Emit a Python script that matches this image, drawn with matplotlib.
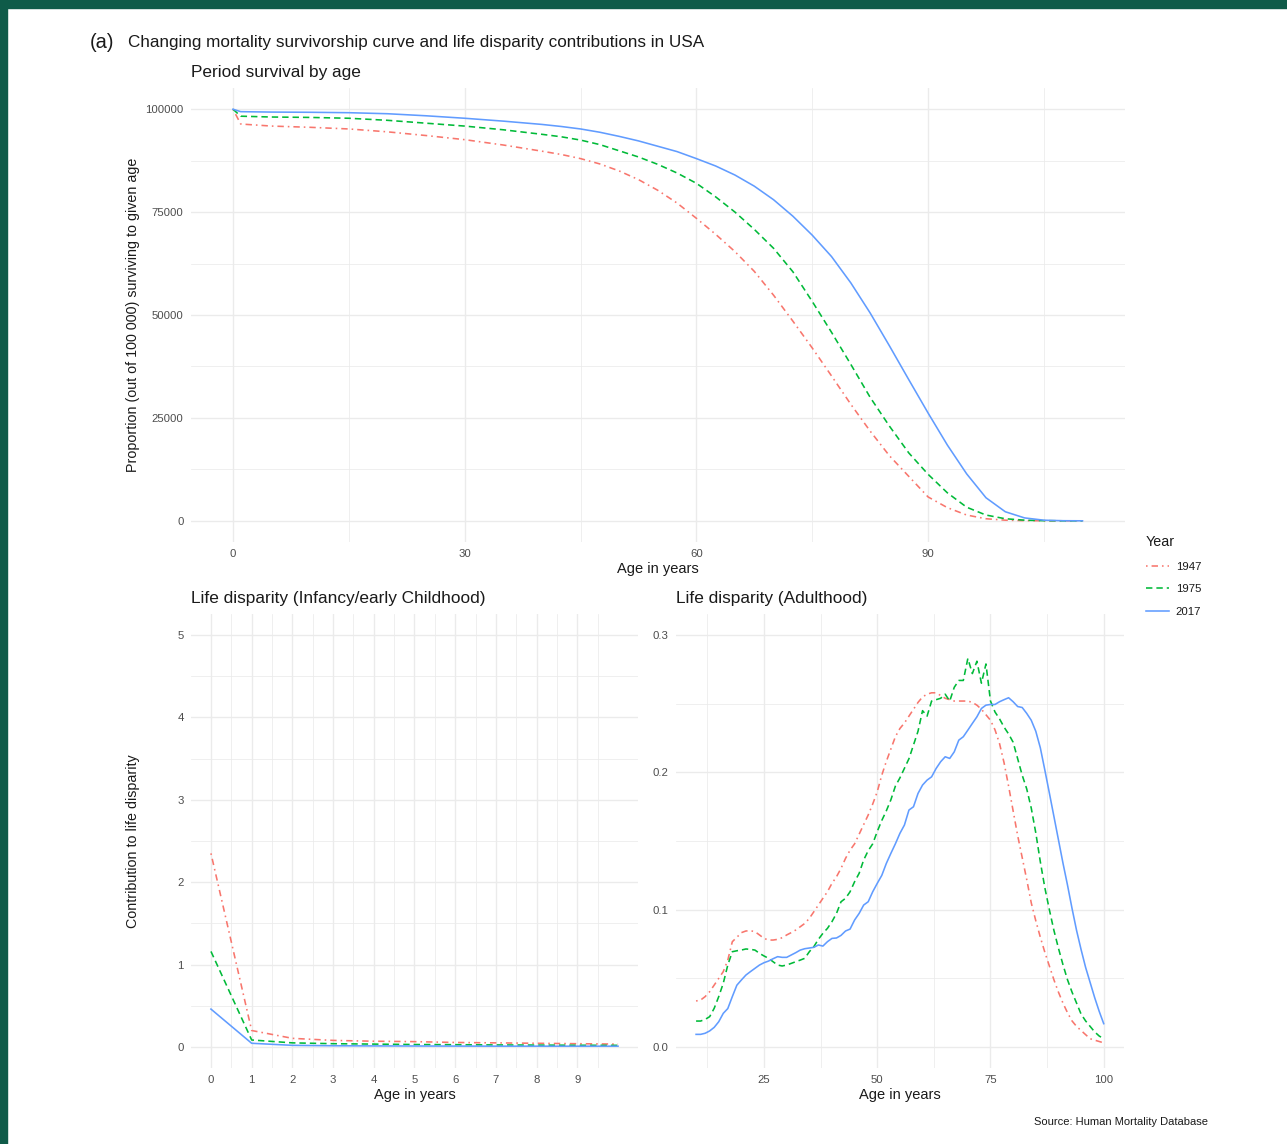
import matplotlib
matplotlib.use("Agg")
import matplotlib.pyplot as plt
from matplotlib.patches import Rectangle

plt.rcParams['font.family'] = ['Liberation Sans', 'DejaVu Sans']

# ---------------- data ----------------
years = ["1947", "1975", "2017"]
colors = ["#F8766D", "#00BA38", "#619CFF"]

surv_ages = [0, 1, 5, 10, 15, 20, 25, 30, 35, 40, 42.5, 45, 47.5, 50, 52.5, 55, 57.5, 60,
             62.5, 65, 67.5, 70, 72.5, 75, 77.5, 80, 82.5, 85, 87.5, 90, 92.5, 95, 97.5,
             100, 102.5, 105, 107.5, 110]
surv_1947 = [100000, 96400, 95900, 95600, 95200, 94500, 93600, 92600, 91300, 89800, 89000,
             88000, 86700, 85000, 82900, 80300, 77200, 73500, 69600, 65400, 60600, 54800,
             48500, 42000, 35200, 28300, 21800, 15800, 10800, 5800, 3200, 1400, 500, 150,
             40, 10, 0, 0]
surv_1975 = [100000, 98300, 98100, 98000, 97800, 97300, 96600, 95900, 95000, 93900, 93300,
             92500, 91400, 89900, 88400, 86600, 84500, 82000, 78700, 75000, 70800, 66200,
             60500, 53300, 45800, 38000, 30000, 23000, 16500, 11300, 6800, 3300, 1400, 500,
             150, 30, 0, 0]
surv_2017 = [100000, 99400, 99300, 99250, 99150, 98900, 98400, 97800, 97100, 96300, 95800,
             95200, 94400, 93400, 92300, 91000, 89700, 88000, 86200, 84000, 81300, 78000,
             74000, 69400, 64200, 57800, 50500, 42500, 34300, 26200, 18400, 11400, 5600,
             2200, 700, 150, 20, 0]

child_ages = [0, 1, 2, 3, 4, 5, 6, 7, 8, 9, 10]
child_1947 = [2.35, 0.20, 0.105, 0.08, 0.07, 0.065, 0.055, 0.05, 0.045, 0.04, 0.035]
child_1975 = [1.16, 0.085, 0.05, 0.04, 0.035, 0.03, 0.028, 0.025, 0.023, 0.021, 0.02]
child_2017 = [0.46, 0.045, 0.02, 0.015, 0.013, 0.012, 0.011, 0.01, 0.01, 0.01, 0.01]

adult_ages = list(range(10, 101))
adult_1947 = [0.0335, 0.0342, 0.0367, 0.0403, 0.0451, 0.050, 0.0549, 0.0633, 0.0767, 0.0799,
              0.0833, 0.0845, 0.0847, 0.084, 0.0816, 0.0791, 0.0779, 0.0779, 0.0784, 0.0796,
              0.0816, 0.0833, 0.0852, 0.0876, 0.090, 0.0937, 0.0985, 0.1034, 0.1083, 0.1131,
              0.1192, 0.124, 0.1301, 0.1374, 0.1434, 0.148, 0.155, 0.162, 0.169, 0.177,
              0.186, 0.198, 0.208, 0.217, 0.226, 0.232, 0.236, 0.241, 0.246, 0.251,
              0.255, 0.257, 0.258, 0.258, 0.256, 0.254, 0.253, 0.252, 0.252, 0.252,
              0.252, 0.251, 0.249, 0.246, 0.242, 0.238, 0.231, 0.221, 0.207, 0.190,
              0.172, 0.154, 0.138, 0.122, 0.105, 0.092, 0.080, 0.069, 0.059, 0.049,
              0.040, 0.032, 0.025, 0.019, 0.015, 0.012, 0.009, 0.006, 0.005, 0.004, 0.003]
adult_1975 = [0.0189, 0.0189, 0.0201, 0.0221, 0.0282, 0.0367, 0.0464, 0.0597, 0.0694, 0.0701,
              0.0706, 0.0714, 0.0711, 0.0706, 0.0682, 0.0663, 0.0646, 0.0621, 0.0597, 0.059,
              0.0597, 0.0609, 0.0621, 0.0633, 0.0646, 0.0694, 0.0731, 0.0784, 0.0828, 0.0864,
              0.0913, 0.0973, 0.1058, 0.1083, 0.1131, 0.1204, 0.1265, 0.1362, 0.143, 0.148,
              0.157, 0.165, 0.172, 0.180, 0.190, 0.196, 0.203, 0.210, 0.220, 0.230,
              0.245, 0.241, 0.252, 0.253, 0.254, 0.257, 0.252, 0.262, 0.267, 0.267,
              0.283, 0.272, 0.281, 0.265, 0.279, 0.252, 0.244, 0.239, 0.233, 0.228,
              0.222, 0.210, 0.198, 0.188, 0.174, 0.156, 0.135, 0.116, 0.100, 0.085,
              0.072, 0.060, 0.049, 0.040, 0.032, 0.024, 0.019, 0.015, 0.011, 0.008, 0.006]
adult_2017 = [0.0092, 0.0092, 0.010, 0.0117, 0.0143, 0.0184, 0.0245, 0.028, 0.0367, 0.045,
              0.0488, 0.0524, 0.0549, 0.0573, 0.0597, 0.0614, 0.0626, 0.0643, 0.0658, 0.0653,
              0.0653, 0.067, 0.0687, 0.0706, 0.0716, 0.0721, 0.0726, 0.0743, 0.0735, 0.0767,
              0.0791, 0.0794, 0.0813, 0.0845, 0.0859, 0.0925, 0.0973, 0.1034, 0.1058, 0.1131,
              0.1192, 0.125, 0.1337, 0.141, 0.148, 0.1556, 0.1617, 0.1726, 0.175, 0.1847,
              0.1908, 0.1944, 0.1968, 0.2029, 0.2078, 0.2114, 0.2102, 0.215, 0.2235, 0.226,
              0.2308, 0.2357, 0.2405, 0.2466, 0.249, 0.2495, 0.2495, 0.2515, 0.253, 0.2544,
              0.2515, 0.248, 0.2473, 0.243, 0.238, 0.230, 0.218, 0.2017, 0.185, 0.168,
              0.151, 0.134, 0.118, 0.101, 0.085, 0.071, 0.058, 0.047, 0.036, 0.026, 0.017]

linestyles = [(0, (1, 2.5, 4, 2.5)), (0, (4, 2.5)), "solid"]

# ---------------- figure ----------------
W, H = 1287, 1144
fig = plt.figure(figsize=(W / 100, H / 100), dpi=100)
fig.patch.set_facecolor("white")


def fx(px):
    return px / W


def fy(py):
    return 1 - py / H


def box(l, t, r, b):
    return [fx(l), fy(b), fx(r) - fx(l), fy(t) - fy(b)]


GRID = "#EBEBEB"
TICKC = "#4D4D4D"
LW = 1.15


def style(ax, xmaj, xmin, ymaj, ymin, xlabels=None, ylabels=None):
    for s in ax.spines.values():
        s.set_visible(False)
    ax.set_xticks(xmaj)
    ax.set_xticks(xmin, minor=True)
    ax.set_yticks(ymaj)
    ax.set_yticks(ymin, minor=True)
    if xlabels is not None:
        ax.set_xticklabels(xlabels)
    if ylabels is not None:
        ax.set_yticklabels(ylabels)
    ax.tick_params(which="both", length=0, colors=TICKC, labelsize=8.2, pad=5)
    ax.grid(which="major", color=GRID, lw=1.0)
    ax.grid(which="minor", color=GRID, lw=0.55)
    ax.set_axisbelow(True)


# Top panel
ax1 = fig.add_axes(box(190.5, 88, 1125, 542))
surv = [surv_1947, surv_1975, surv_2017]
handles = []
for yv, c, ls, lab in zip(surv, colors, linestyles, years):
    h, = ax1.plot(surv_ages, yv, color=c, ls=ls, lw=LW, label=lab)
    handles.append(h)
ax1.set_xlim(-5.5, 115.5)
ax1.set_ylim(-5150, 105150)
style(ax1, [0, 30, 60, 90], [15, 45, 75, 105],
      [0, 25000, 50000, 75000, 100000], [12500, 37500, 62500, 87500],
      ylabels=["0", "25000", "50000", "75000", "100000"])

# Bottom-left panel
ax2 = fig.add_axes(box(190.6, 614, 638.4, 1068))
for yv, c, ls in zip([child_1947, child_1975, child_2017], colors, linestyles):
    ax2.plot(child_ages, yv, color=c, ls=ls, lw=LW)
ax2.set_xlim(-0.5, 10.5)
ax2.set_ylim(-0.255, 5.255)
style(ax2, list(range(10)), [i + 0.5 for i in range(10)],
      [0, 1, 2, 3, 4, 5], [0.5, 1.5, 2.5, 3.5, 4.5])

# Bottom-right panel
ax3 = fig.add_axes(box(675.7, 614, 1124.1, 1068))
for yv, c, ls in zip([adult_1947, adult_1975, adult_2017], colors, linestyles):
    ax3.plot(adult_ages, yv, color=c, ls=ls, lw=LW)
ax3.set_xlim(5.5, 104.5)
ax3.set_ylim(-0.0153, 0.3154)
style(ax3, [25, 50, 75, 100], [12.5, 37.5, 62.5, 87.5],
      [0.0, 0.1, 0.2, 0.3], [0.05, 0.15, 0.25],
      ylabels=["0.0", "0.1", "0.2", "0.3"])

# Texts
TXT = "#1A1A1A"
fig.text(fx(90), fy(43), "(a)", fontsize=14.5, color=TXT, va="center", ha="left")
fig.text(fx(128), fy(43),
         "Changing mortality survivorship curve and life disparity contributions in USA",
         fontsize=12.3, color=TXT, va="center", ha="left")
fig.text(fx(191), fy(73), "Period survival by age", fontsize=12.4, color=TXT,
         va="center", ha="left")
fig.text(fx(191), fy(598), "Life disparity (Infancy/early Childhood)", fontsize=12.4,
         color=TXT, va="center", ha="left")
fig.text(fx(676), fy(598), "Life disparity (Adulthood)", fontsize=12.4, color=TXT,
         va="center", ha="left")

fig.text(fx(133), fy(315), "Proportion (out of 100 000) surviving to given age",
         fontsize=10.3, color=TXT, rotation=90, va="center", ha="center")
fig.text(fx(133), fy(841), "Contribution to life disparity", fontsize=10.3, color=TXT,
         rotation=90, va="center", ha="center")
fig.text(fx(657.7), fy(569), "Age in years", fontsize=10.5, color=TXT, va="center", ha="center")
fig.text(fx(414.5), fy(1095), "Age in years", fontsize=10.5, color=TXT, va="center", ha="center")
fig.text(fx(900), fy(1095), "Age in years", fontsize=10.5, color=TXT, va="center", ha="center")
fig.text(fx(1208), fy(1122), "Source: Human Mortality Database", fontsize=8, color=TXT,
         va="center", ha="right")

leg = fig.legend(handles, years, title="Year", loc="upper left",
                 bbox_to_anchor=(fx(1146), fy(535)), frameon=False, fontsize=8.2,
                 title_fontsize=10.3, handlelength=2.0, handletextpad=0.6,
                 labelspacing=1.1, borderaxespad=0, borderpad=0, alignment="left")
for t in leg.get_texts():
    t.set_color(TXT)
leg.get_title().set_color(TXT)

# Frame (dark green border at top and left)
BORDER = "#0F5B49"
fig.patches.append(Rectangle((0, fy(8)), 1, 1 - fy(8), transform=fig.transFigure,
                             color=BORDER, zorder=10))
fig.patches.append(Rectangle((0, 0), fx(7), 1, transform=fig.transFigure,
                             color=BORDER, zorder=10))

fig.savefig("out.png", dpi=100)
